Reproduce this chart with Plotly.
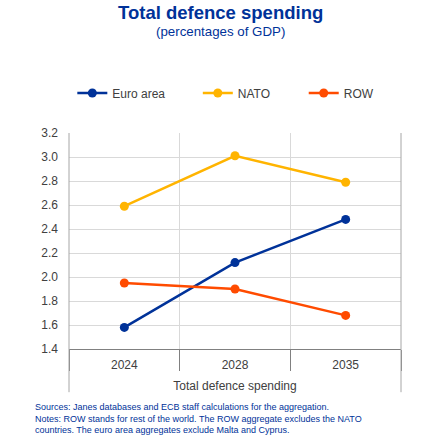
import plotly.graph_objects as go

# ---- data ----
years = ["2024", "2028", "2035"]
euro_area = [1.58, 2.12, 2.48]
nato = [2.59, 3.01, 2.79]
row = [1.95, 1.90, 1.68]

series_names = ["Euro area", "NATO", "ROW"]
series_vals = [euro_area, nato, row]
colours = ["#003299", "#FFB400", "#FF4B00"]

FONT = "Arial, Liberation Sans, sans-serif"
TXT = "#404040"

fig = go.Figure()
legend_ids = ["legend", "legend2", "legend3"]
for name, vals, col, lg in zip(series_names, series_vals, colours, legend_ids):
    fig.add_trace(go.Scatter(
        x=years, y=vals, name=name, mode="lines+markers",
        line=dict(color=col, width=2.5),
        marker=dict(color=col, size=9),
        legend=lg,
    ))

# one legend per series so the spacing can follow the original
leg_common = dict(orientation="h", y=1.185, xanchor="left", yanchor="middle",
                  itemwidth=30, font=dict(size=12, color=TXT), bgcolor="rgba(0,0,0,0)")
fig.update_layout(
    width=435, height=443,
    margin=dict(l=69, r=34, t=133, b=94),
    paper_bgcolor="white", plot_bgcolor="white",
    font=dict(family=FONT, color=TXT, size=12),
    showlegend=True,
    legend=dict(x=0.01, **leg_common),
    legend2=dict(x=0.388, **leg_common),
    legend3=dict(x=0.707, **leg_common),
)

fig.update_xaxes(
    type="category", tickson="boundaries", range=[-0.5, 2.5],
    showgrid=True, gridcolor="#d9d9d9", gridwidth=1,
    ticks="outside", ticklen=21, tickcolor="#808080",
    showline=True, linecolor="#808080", linewidth=1,
    ticklabelstandoff=5,
    tickfont=dict(size=12, color=TXT),
    title=dict(text="Total defence spending", font=dict(size=12, color=TXT), standoff=10),
)
fig.update_yaxes(
    range=[1.4, 3.2], dtick=0.2, tickformat=".1f",
    showgrid=True, gridcolor="#d9d9d9", gridwidth=1,
    zeroline=False, ticks="", ticklabelstandoff=10,
    tickfont=dict(size=12, color=TXT),
)

# outer frame lines running below the axis
for xp in (0, 1):
    fig.add_shape(type="line", xref="paper", yref="paper",
                  x0=xp, x1=xp, y0=-0.2, y1=1,
                  line=dict(color="#a6a6a6", width=1))

fig.add_annotation(text="<b>Total defence spending</b>", xref="paper", yref="paper",
                   x=0.456, y=1.556, xanchor="center", yanchor="middle", showarrow=False,
                   font=dict(size=18.5, color="#003299", family=FONT))
fig.add_annotation(text="(percentages of GDP)", xref="paper", yref="paper",
                   x=0.456, y=1.472, xanchor="center", yanchor="middle", showarrow=False,
                   font=dict(size=13.3, color="#003299", family=FONT))

# footer lines, one annotation each so they sit at the left edge
notes = [
    "Sources: Janes databases and ECB staff calculations for the aggregation.",
    "Notes: ROW stands for rest of the world. The ROW aggregate excludes the NATO",
    "countries. The euro area aggregates exclude Malta and Cyprus.",
]
for i, line in enumerate(notes):
    fig.add_annotation(text=line, xref="paper", yref="paper", align="left",
                       x=-0.108, y=-0.268 - i * 0.054, xanchor="left", yanchor="middle",
                       showarrow=False,
                       font=dict(size=9, color="#003299", family=FONT))

# drop the browser's default body margin so the figure sits at the page corner
fig.write_html("out.html", config={"displayModeBar": False},
               post_script="document.body.style.margin='0';")
